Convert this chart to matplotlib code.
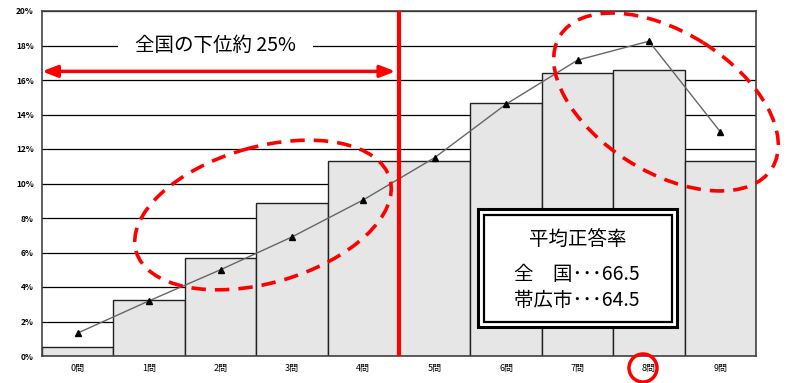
import matplotlib.pyplot as plt
from matplotlib.patches import Ellipse, Rectangle, Circle
from matplotlib.transforms import Affine2D

plt.rcParams['font.family'] = ['Noto Sans CJK JP', 'DejaVu Sans']

# 正答数ごとの分布（％）
categories = ["0問", "1問", "2問", "3問", "4問", "5問", "6問", "7問", "8問", "9問"]
obihiro = [0.5, 3.25, 5.7, 8.85, 11.3, 11.3, 14.65, 16.4, 16.6, 11.3]
national = [1.33, 3.2, 5.0, 6.9, 9.05, 11.5, 14.6, 17.15, 18.25, 13.0]
yticks = [0, 2, 4, 6, 8, 10, 12, 14, 16, 18, 20]

W, H = 789, 383
fig = plt.figure(figsize=(W / 100, H / 100), dpi=100)
ax = fig.add_axes([42 / W, 1 - 356 / H, (756 - 42) / W, (356 - 11) / H])

# 画面ピクセル座標（左上原点、y下向き）
px = Affine2D().scale(1 / W, -1 / H).translate(0, 1) + fig.transFigure

x = list(range(len(categories)))
ax.set_axisbelow(True)
ax.yaxis.grid(True, color="black", linewidth=0.9)
ax.bar(x, obihiro, width=1.0, color="#e6e6e6", edgecolor="#222222", linewidth=1.0, zorder=2)
ax.plot(x, national, color="#666666", linewidth=1.0, marker="^", markersize=5,
        markerfacecolor="black", markeredgecolor="black", zorder=3)

ax.set_xlim(-0.5, 9.5)
ax.set_ylim(0, 20)
ax.set_yticks(yticks)
ax.set_yticklabels([f"{v}%" for v in yticks], fontsize=6, fontweight="bold")
ax.set_xticks(x)
ax.set_xticklabels(categories, fontsize=6.5)
ax.tick_params(length=0, pad=6)
for s in ax.spines.values():
    s.set_color("#444444")
    s.set_linewidth(1.2)

# 下位25%の区切り
ax.axvline(4.5, color="#ff0000", linewidth=3, zorder=5)
ax.annotate("", xy=(-0.5, 16.5), xytext=(4.45, 16.5),
            arrowprops=dict(arrowstyle="<|-|>,head_length=0.9,head_width=0.35",
                            color="#ff0000", lw=2.5, shrinkA=0, shrinkB=0), zorder=5)
ax.text(1.93, 18.0, "全国の下位約 25%", fontsize=14, ha="center", va="center",
        bbox=dict(facecolor="white", edgecolor="none", pad=12), zorder=4)

# 注目箇所の楕円（y軸が下向きなので角度の符号は画面上と逆）
fig.add_artist(Ellipse((263, 215), 264, 136, angle=-16, transform=px, fill=False,
                       edgecolor="#ff0000", linewidth=2.6, linestyle=(0, (4, 2.5))))
fig.add_artist(Ellipse((666, 102), 250, 140, angle=32, transform=px, fill=False,
                       edgecolor="#ff0000", linewidth=2.6, linestyle=(0, (4, 2.5))))
fig.add_artist(Circle((643, 368), 14, transform=px, fill=False,
                      edgecolor="#ff0000", linewidth=2.5))

# 平均正答率の枠（二重線）
fig.add_artist(Rectangle((478, 209), 199, 118, transform=px, facecolor="white",
                         edgecolor="black", linewidth=2.2))
fig.add_artist(Rectangle((484, 214.5), 188, 107, transform=px, facecolor="white",
                         edgecolor="black", linewidth=1.6))
fig.text(578 / W, 1 - 240 / H, "平均正答率", fontsize=14, ha="center", va="center")
fig.text(514 / W, 1 - 274 / H, "全　国･･･66.5", fontsize=14, ha="left", va="center")
fig.text(514 / W, 1 - 301 / H, "帯広市･･･64.5", fontsize=14, ha="left", va="center")

fig.savefig("out.png", dpi=100)
